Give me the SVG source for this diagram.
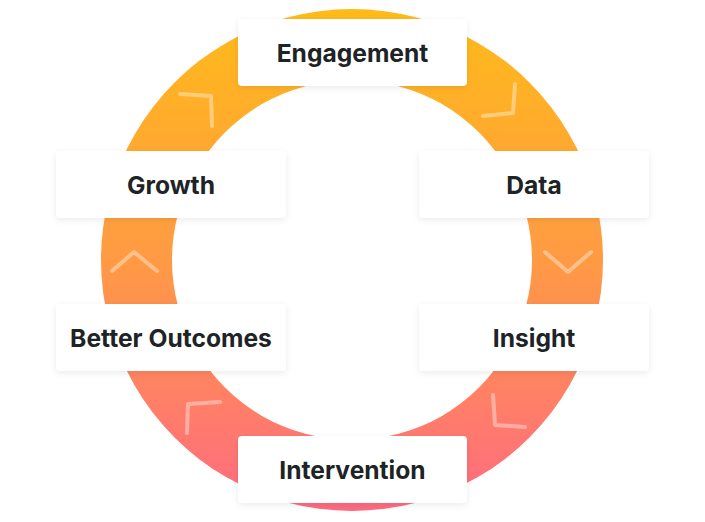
<svg xmlns="http://www.w3.org/2000/svg" width="705" height="522" viewBox="0 0 705 522">
<defs>
<linearGradient id="ringGrad" x1="0" y1="0" x2="0" y2="1">
<stop offset="0" stop-color="#FFBB18"/>
<stop offset="0.5" stop-color="#FF9A44"/>
<stop offset="1" stop-color="#FF6A82"/>
</linearGradient>
<filter id="shadow" x="-10%" y="-20%" width="120%" height="140%">
<feDropShadow dx="0" dy="2" stdDeviation="3" flood-color="#000" flood-opacity="0.08"/>
</filter>
</defs>
<style>
.box{fill:#fff;filter:url(#shadow)}
.label{font-family:Inter,"Liberation Sans",sans-serif;font-weight:700;font-size:24.6px;fill:#1E2326;text-anchor:middle}
.chev{fill:none;stroke:#fff;stroke-opacity:0.38;stroke-width:4;stroke-linecap:round;stroke-linejoin:round}
</style>
<rect width="705" height="522" fill="#fff"/>
<path id="ring" fill="url(#ringGrad)" fill-rule="evenodd" d="M352 9a251 251 0 1 0 0.01 0zM352 80a180 180 0 1 1 -0.01 0z"/>
<g id="connectors">
<polyline class="chev" points="180,94 211,96 212,126"/>
<polyline class="chev" points="515,84 513,113 483,116"/>
<polyline class="chev" points="545,252 568,272 591,252"/>
<polyline class="chev" points="493,395 495,425 525,427"/>
<polyline class="chev" points="220,402 188,404 187,433"/>
<polyline class="chev" points="112,271 134,252 157,271"/>
</g>
<g id="engagement"><rect class="box" x="238" y="19" width="229" height="67" rx="4"/><text class="label" x="352.5" y="61.5">Engagement</text></g>
<g id="data"><rect class="box" x="419" y="151" width="230" height="67" rx="4"/><text class="label" x="534" y="193.5">Data</text></g>
<g id="insight"><rect class="box" x="419" y="304" width="230" height="67" rx="4"/><text class="label" x="534" y="346.5">Insight</text></g>
<g id="intervention"><rect class="box" x="238" y="436" width="229" height="67" rx="4"/><text class="label" x="352.5" y="478.5">Intervention</text></g>
<g id="better-outcomes"><rect class="box" x="56" y="304" width="230" height="67" rx="4"/><text class="label" x="171" y="346.5">Better Outcomes</text></g>
<g id="growth"><rect class="box" x="56" y="151" width="230" height="67" rx="4"/><text class="label" x="171" y="193.5">Growth</text></g>
</svg>
